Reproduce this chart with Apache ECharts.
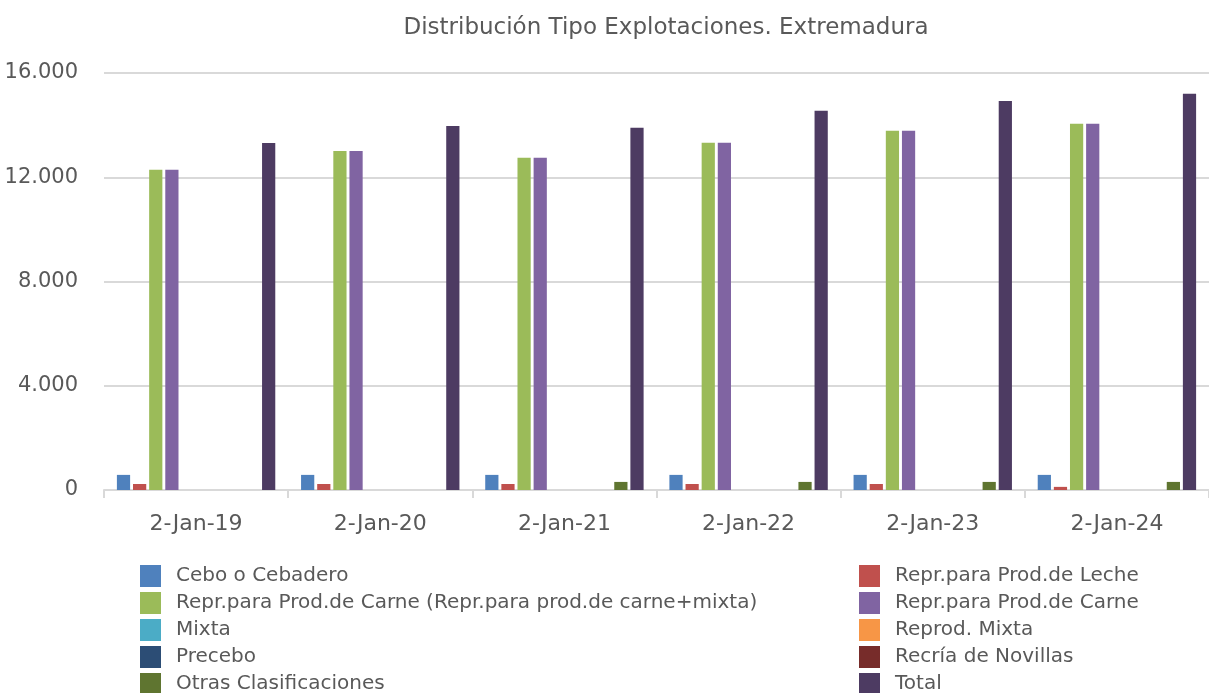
<!DOCTYPE html>
<html><head><meta charset="utf-8">
<script src="https://cdn.jsdelivr.net/npm/echarts@6/dist/echarts.min.js"></script>
<style>html,body{margin:0;padding:0;background:#fff}#c{width:1209px;height:693px}</style>
</head><body><div id="c"></div>
<script>
const categories = ['2-Jan-19','2-Jan-20','2-Jan-21','2-Jan-22','2-Jan-23','2-Jan-24'];
const seriesNames = ['Cebo o Cebadero','Repr.para Prod.de Leche','Repr.para Prod.de Carne (Repr.para prod.de carne+mixta)','Repr.para Prod.de Carne','Mixta','Reprod. Mixta','Precebo','Recría de Novillas','Otras Clasificaciones','Total'];
const cebo = [580, 580, 580, 580, 580, 580];
const leche = [230, 230, 230, 230, 230, 120];
const carneMixta = [12290, 13010, 12750, 13320, 13780, 14050];
const carne = [12290, 13010, 12750, 13320, 13780, 14050];
const mixta = [0, 0, 0, 0, 0, 0];
const reprodMixta = [0, 0, 0, 0, 0, 0];
const precebo = [0, 0, 0, 0, 0, 0];
const recria = [0, 0, 0, 0, 0, 0];
const otras = [0, 0, 310, 310, 310, 310];
const total = [13310, 13970, 13900, 14550, 14930, 15200];
const yTicks = [0, 4000, 8000, 12000, 16000];
const colors = ['#4F81BD','#C0504D','#9BBB59','#8064A2','#4BACC6','#F79646','#2C4D75','#772C2A','#5F7530','#4D3B62'];
const values = [cebo, leche, carneMixta, carne, mixta, reprodMixta, precebo, recria, otras, total];

const FONT = 'DejaVu Sans';
const TXT = '#595959';
const chart = echarts.init(document.getElementById('c'), null, {renderer:'canvas'});
const legendLeft = [0,2,4,6,8].map(i => seriesNames[i]);
const legendRight = [1,3,5,7,9].map(i => seriesNames[i]);
const legendCommon = {orient:'vertical', itemWidth:21, itemHeight:22, itemGap:5, icon:'rect',
  padding:0, height:140, selectedMode:false,
  textStyle:{color:TXT, fontFamily:FONT, fontSize:20, padding:[0,0,0,10]}};
chart.setOption({
  animation:false,
  color: colors,
  title:{text:'Distribución Tipo Explotaciones. Extremadura', left:661, top:12, textAlign:'center',
    textStyle:{color:TXT, fontFamily:FONT, fontSize:23, fontWeight:'normal'}},
  grid:{left:104, top:73, width:1114, bottom:203, containLabel:false},
  legend:[
    Object.assign({left:140, top:565, data:legendLeft}, legendCommon),
    Object.assign({left:859, top:565, data:legendRight}, legendCommon)
  ],
  xAxis:{type:'category', data:categories,
    axisLine:{lineStyle:{color:'#d9d9d9', width:2}},
    axisTick:{show:true, length:8, lineStyle:{color:'#d9d9d9', width:2}},
    axisLabel:{color:TXT, fontFamily:FONT, fontSize:22, margin:23}},
  yAxis:{type:'value', min:0, max:16000, interval:4000,
    axisLine:{show:false}, axisTick:{show:false},
    splitLine:{lineStyle:{color:'#d9d9d9', width:2}},
    axisLabel:{color:TXT, fontFamily:FONT, fontSize:21, margin:26,
      formatter: v => yTicks.includes(v) ? v.toLocaleString('de-DE') : ''}},
  series: seriesNames.map((n,i)=>({name:n, type:'bar', data:values[i],
    barCategoryGap:'14%', barGap:'22%', itemStyle:{color:colors[i]}}))
});
</script></body></html>
